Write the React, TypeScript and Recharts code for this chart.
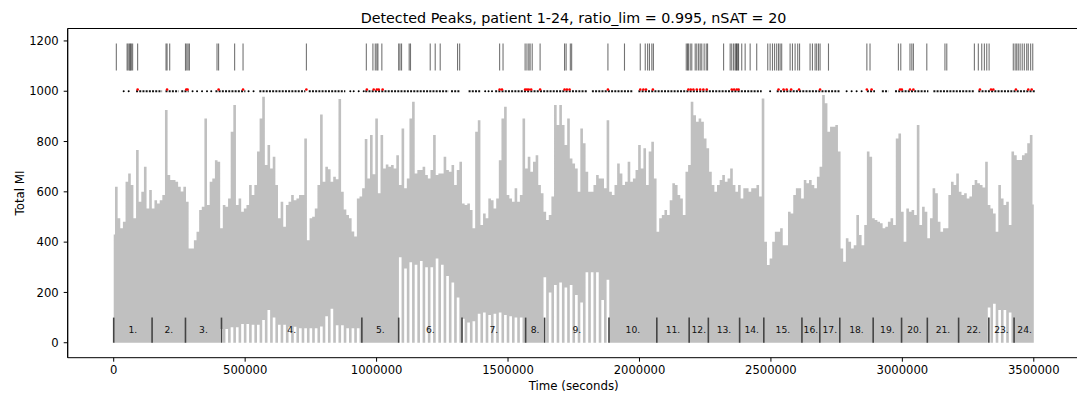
import React from 'react';
import { ComposedChart, Area, XAxis, YAxis, ReferenceLine, ReferenceDot, Scatter } from 'recharts';

// sampling step of the Total MI envelope (seconds)
const STEP = 10000;

// upper envelope of Total MI, one value every STEP seconds from t = 0
const HI = [
  430, 620, 495, 455, 481, 640, 673, 627, 495, 766,
  561, 600, 700, 534, 607, 534, 567, 554, 567, 587,
  925, 667, 647, 647, 640, 620, 601, 620, 561, 375,
  375, 408, 441, 528, 541, 892, 548, 640, 653, 726,
  720, 455, 548, 541, 574, 839, 945, 548, 574, 521,
  534, 548, 627, 587, 627, 760, 892, 978, 707, 786,
  693, 740, 627, 495, 561, 461, 548, 561, 587, 567,
  574, 587, 587, 812, 408, 495, 501, 534, 627, 908,
  640, 700, 690, 640, 660, 650, 969, 600, 530, 508,
  495, 442, 422, 574, 581, 614, 810, 653, 826, 670,
  892, 594, 826, 693, 709, 700, 707, 693, 746, 627,
  852, 614, 653, 892, 958, 673, 687, 687, 700, 667,
  653, 687, 826, 667, 673, 673, 740, 687, 680, 707,
  627, 687, 720, 554, 548, 554, 528, 455, 839, 885,
  468, 514, 495, 574, 567, 534, 574, 726, 892, 938,
  587, 574, 561, 614, 561, 587, 892, 693, 740, 680,
  720, 746, 627, 594, 521, 488, 508, 581, 945, 866,
  945, 866, 786, 892, 733, 713, 693, 600, 852, 793,
  680, 600, 600, 627, 667, 653, 653, 614, 885, 600,
  587, 627, 713, 673, 627, 640, 720, 640, 653, 687,
  786, 693, 773, 627, 760, 799, 653, 441, 495, 508,
  528, 508, 567, 634, 627, 587, 574, 508, 680, 707,
  958, 905, 879, 892, 879, 812, 773, 680, 627, 600,
  627, 647, 667, 640, 653, 693, 627, 600, 627, 574,
  614, 614, 600, 614, 614, 627, 581, 971, 402, 309,
  335, 402, 441, 441, 455, 388, 388, 521, 514, 587,
  614, 614, 574, 647, 634, 647, 627, 614, 660, 700,
  985, 952, 839, 859, 859, 866, 760, 375, 322, 415,
  402, 375, 388, 508, 428, 388, 468, 760, 740, 495,
  488, 481, 475, 455, 461, 481, 495, 468, 812, 832,
  521, 402, 534, 521, 528, 508, 866, 468, 541, 521,
  415, 495, 614, 594, 481, 441, 455, 455, 587, 640,
  627, 673, 600, 587, 594, 574, 581, 627, 647, 634,
  627, 617, 720, 548, 534, 514, 441, 627, 574, 548,
  561, 468, 760, 746, 727, 727, 746, 753, 793, 826,
  550,
];

// lower envelope where the signal does not reach 0 (striped regions)
const LOW_SEG4_START = 410000;
const LOW_SEG4 = [
  55, 0, 55, 0, 62, 0, 62, 0, 75, 0, 75, 0, 72, 0, 72, 0, 90, 0, 130, 0,
  100, 0, 72, 0, 72, 0, 64, 0, 64, 0, 58, 0, 58, 0, 58, 0, 58, 0, 65, 0,
  105, 0, 135, 0, 70, 0, 70, 0, 58, 0, 58, 0, 58, 0,
];
const LOW_SEG6_START = 1090000;
const LOW_SEG6 = [
  340, 0, 295, 0, 320, 0, 310, 0, 325, 0, 300, 0, 300, 0, 335, 0, 310, 0, 265, 0,
  240, 0, 180, 0,
];
const LOW_SEG7_START = 1330000;
const LOW_SEG7 = [
  95, 0, 80, 0, 85, 0, 115, 0, 120, 0, 110, 0, 115, 0, 120, 0, 110, 0, 105, 0,
  100, 0, 100, 0,
];
const LOW_SEG9_START = 1640000;
const LOW_SEG9 = [
  260, 0, 200, 0, 230, 0, 240, 0, 220, 0, 230, 0, 190, 0, 160, 0, 280, 0,
  280, 0, 280, 0, 170, 0, 250,
];
const LOW_SEG23_START = 3330000;
const LOW_SEG23 = [140, 0, 155, 0, 130, 0, 130, 0, 120, 0];

// patient segments (start times) and labels
const SEGMENT_STARTS = [
  0, 146000, 273000, 410000, 944000, 1084000, 1325000, 1567000, 1639000, 1884000,
  2066000, 2189000, 2262000, 2381000, 2473000, 2618000, 2686000, 2762000, 2889000,
  2997000, 3095000, 3214000, 3329000, 3425000,
];
const SEGMENT_END = 3505000;
const SEGMENT_LABELS = [
  '1.', '2.', '3.', '4.', '5.', '6.', '7.', '8.', '9.', '10.', '11.', '12.',
  '13.', '14.', '15.', '16.', '17.', '18.', '19.', '20.', '21.', '22.', '23.', '24.',
];
const SEG_MARK_TOP = 100;
const SEG_LABEL_Y = 50;

// detected peaks (vertical marks)
const PEAK_TIMES = [
  10000, 51000, 55000, 60000, 64000, 67000, 72000, 91000, 199000, 203000, 213000,
  273000, 278000, 283000, 288000, 393000, 399000, 460000, 492000, 733000, 961000,
  986000, 995000, 1001000, 1005000, 1020000, 1084000, 1089000, 1095000, 1124000,
  1129000, 1204000, 1223000, 1242000, 1308000, 1316000, 1468000, 1481000, 1565000,
  1572000, 1579000, 1584000, 1592000, 1622000, 1715000, 1721000, 1737000, 1742000,
  1880000, 1943000, 2003000, 2022000, 2031000, 2038000, 2047000, 2053000, 2178000,
  2183000, 2186000, 2193000, 2199000, 2212000, 2218000, 2225000, 2231000, 2237000,
  2246000, 2254000, 2259000, 2320000, 2345000, 2351000, 2358000, 2364000, 2368000,
  2370000, 2374000, 2377000, 2389000, 2402000, 2421000, 2446000, 2488000, 2497000,
  2506000, 2514000, 2522000, 2529000, 2535000, 2541000, 2573000, 2582000, 2592000,
  2602000, 2609000, 2649000, 2658000, 2668000, 2674000, 2681000, 2687000, 2719000,
  2865000, 2877000, 2985000, 2994000, 3029000, 3036000, 3042000, 3093000, 3162000,
  3169000, 3274000, 3289000, 3302000, 3312000, 3321000, 3330000, 3422000, 3429000,
  3435000, 3441000, 3448000, 3456000, 3464000, 3473000, 3479000, 3488000, 3496000,
];
const PEAK_LOW = 1082;
const PEAK_HIGH = 1190;

// runs of dense black markers at 1000
const DOT_RUNS = [
  [85000, 184000], [197000, 247000], [257000, 285000], [387000, 501000],
  [554000, 729000], [742000, 881000], [957000, 1274000], [1283000, 1318000],
  [1350000, 1394000], [1451000, 1800000], [1819000, 1977000], [1996000, 2465000],
  [2522000, 2763000], [2865000, 2896000], [2922000, 2947000], [2972000, 3099000],
  [3118000, 3276000], [3289000, 3504000],
];
const LONE_DOTS = [
  38000, 57000, 300000, 317000, 336000, 355000, 371000, 513000, 532000, 900000,
  913000, 932000, 951000, 1413000, 1426000, 1439000, 2497000, 2788000, 2807000,
  2826000, 2845000,
];
const DOT_LEVEL = 1000;
const RED_DOTS = [
  91000, 203000, 276000, 281000, 399000, 492000, 733000, 963000, 989000, 1001000,
  1008000, 1023000, 1468000, 1477000, 1565000, 1572000, 1579000, 1588000, 1622000,
  1715000, 1724000, 1734000, 1880000, 2003000, 2015000, 2025000, 2051000, 2186000,
  2195000, 2205000, 2218000, 2231000, 2243000, 2256000, 2351000, 2360000, 2370000,
  2377000, 2529000, 2548000, 2560000, 2577000, 2607000, 2687000, 2865000, 2883000,
  2991000, 2998000, 3029000, 3042000, 3295000, 3337000, 3346000, 3432000, 3479000,
  3492000,
];
const RED_LEVEL = 1007;

const X_TICKS = [0, 500000, 1000000, 1500000, 2000000, 2500000, 3000000, 3500000];
const Y_TICKS = [0, 200, 400, 600, 800, 1000, 1200];
const X_DOMAIN = [-175000, 3675000];
const Y_DOMAIN = [-59.5, 1249.5];

const LOW_BANDS = [
  { start: LOW_SEG4_START, values: LOW_SEG4 },
  { start: LOW_SEG6_START, values: LOW_SEG6 },
  { start: LOW_SEG7_START, values: LOW_SEG7 },
  { start: LOW_SEG9_START, values: LOW_SEG9 },
  { start: LOW_SEG23_START, values: LOW_SEG23 },
];

const signal = HI.map((h, i) => {
  const t = i * STEP;
  let lo = 0;
  for (const b of LOW_BANDS) {
    const j = Math.round((t - b.start) / STEP);
    if (j >= 0 && j < b.values.length) lo = b.values[j];
  }
  return { t, range: [lo, h] };
});

const loneDots = LONE_DOTS.map((t) => ({ t, v: DOT_LEVEL }));
const redDots = RED_DOTS.map((t) => ({ t, v: RED_LEVEL }));
const segLabels = SEGMENT_STARTS.map((s, i) => {
  const e = i + 1 < SEGMENT_STARTS.length ? SEGMENT_STARTS[i + 1] : SEGMENT_END;
  return { t: (s + e) / 2, label: SEGMENT_LABELS[i] };
});

const FONT = "'DejaVu Sans', 'Liberation Sans', sans-serif";
const TICK_STYLE = { fill: '#000', fontSize: 11.6, fontFamily: FONT };

const blackDot = (p: any) => <circle cx={p.cx} cy={p.cy} r={1} fill="#000" />;
const redDot = (p: any) => <circle cx={p.cx} cy={p.cy} r={1.3} fill="#ff0000" />;

export default function App() {
  return (
    <div
      style={{
        position: 'absolute', left: 0, top: 0, width: 1077, height: 399,
        overflow: 'hidden', background: '#fff', fontFamily: FONT,
      }}
    >
      <ComposedChart
        width={1090}
        height={399}
        data={signal}
        margin={{ top: 28.5, right: 10.2, bottom: 0, left: 0 }}
      >
        <XAxis
          dataKey="t"
          type="number"
          domain={X_DOMAIN}
          allowDataOverflow
          ticks={X_TICKS}
          tickFormatter={(v: number) => String(v)}
          height={41.3}
          tickSize={4}
          tickMargin={4}
          stroke="#000"
          axisLine={{ stroke: '#000', strokeWidth: 1 }}
          tick={TICK_STYLE}
        />
        <YAxis
          type="number"
          domain={Y_DOMAIN}
          allowDataOverflow
          ticks={Y_TICKS}
          width={67.7}
          tickSize={4}
          tickMargin={5}
          stroke="#000"
          axisLine={{ stroke: '#000', strokeWidth: 1 }}
          tick={TICK_STYLE}
        />
        <Area
          dataKey="range"
          type="step"
          stroke="none"
          fill="#c0c0c0"
          fillOpacity={1}
          isAnimationActive={false}
        />
        {SEGMENT_STARTS.map((s) => (
          <ReferenceLine
            key={'seg' + s}
            segment={[{ x: s, y: 0 }, { x: s, y: SEG_MARK_TOP }]}
            stroke="#444"
            strokeWidth={1.6}
          />
        ))}
        {segLabels.map((d) => (
          <ReferenceDot
            key={'lab' + d.label}
            x={d.t}
            y={SEG_LABEL_Y}
            r={0}
            fill="none"
            stroke="none"
            label={{ value: d.label, position: 'center', fill: '#111', fontSize: 9.2, fontFamily: FONT }}
          />
        ))}
        {PEAK_TIMES.map((t, i) => (
          <ReferenceLine
            key={'pk' + i}
            segment={[{ x: t, y: PEAK_LOW }, { x: t, y: PEAK_HIGH }]}
            stroke="#000"
            strokeOpacity={0.55}
            strokeWidth={1.1}
          />
        ))}
        {DOT_RUNS.map((r, i) => (
          <ReferenceLine
            key={'run' + i}
            segment={[{ x: r[0], y: DOT_LEVEL }, { x: r[1], y: DOT_LEVEL }]}
            stroke="#111"
            strokeWidth={1.8}
            strokeDasharray="2 1.2"
          />
        ))}
        <Scatter data={loneDots} dataKey="v" shape={blackDot} isAnimationActive={false} />
        <Scatter data={redDots} dataKey="v" shape={redDot} isAnimationActive={false} />
        <ReferenceLine y={Y_DOMAIN[1]} stroke="#000" strokeWidth={1} ifOverflow="visible" />
        <ReferenceLine x={X_DOMAIN[0]} stroke="#000" strokeWidth={1} ifOverflow="visible" />
        <ReferenceLine x={X_DOMAIN[1]} stroke="#000" strokeWidth={1} ifOverflow="visible" />
      </ComposedChart>
      <div
        style={{
          position: 'absolute', left: 273.5, width: 600, top: 9.5, textAlign: 'center',
          fontSize: 14.3, lineHeight: '16px', color: '#000', whiteSpace: 'nowrap',
        }}
      >
        Detected Peaks, patient 1-24, ratio_lim = 0.995, nSAT = 20
      </div>
      <div
        style={{
          position: 'absolute', left: 473.7, width: 200, top: 378.5, textAlign: 'center',
          fontSize: 11.8, lineHeight: '14px', color: '#000', whiteSpace: 'nowrap',
        }}
      >
        Time (seconds)
      </div>
      <div
        style={{
          position: 'absolute', left: 20 - 50, width: 100, top: 193 - 7, textAlign: 'center',
          fontSize: 11.8, lineHeight: '14px', color: '#000', whiteSpace: 'nowrap',
          transform: 'rotate(-90deg)',
        }}
      >
        Total MI
      </div>
    </div>
  );
}
